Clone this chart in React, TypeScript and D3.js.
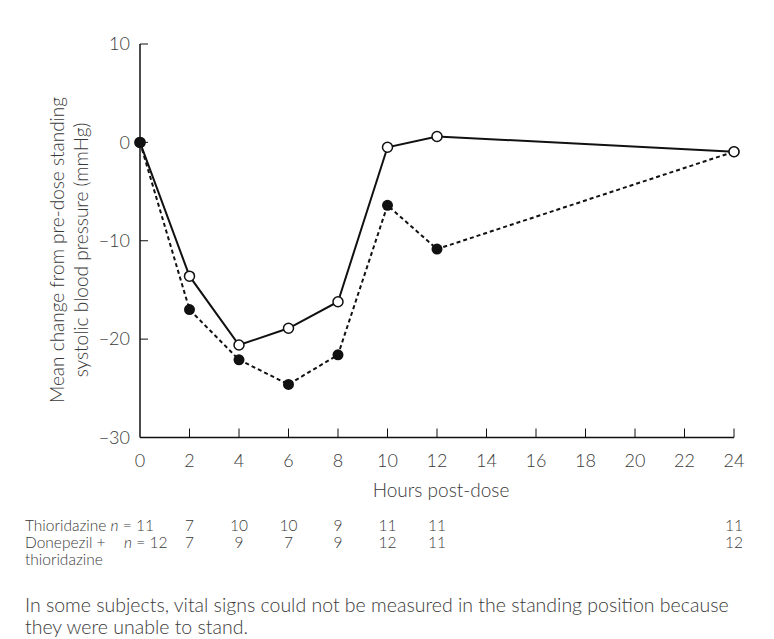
import React from "react";
import * as d3 from "d3";

const hours = [0, 2, 4, 6, 8, 10, 12, 24];
const thioridazine = [0, -13.6, -20.6, -18.9, -16.2, -0.5, 0.6, -0.95];
const donepezilThioridazine = [0, -17.0, -22.1, -24.6, -21.6, -6.4, -10.85, -0.95];
const xTicks = [0, 2, 4, 6, 8, 10, 12, 14, 16, 18, 20, 22, 24];
const yTicks = [10, 0, -10, -20, -30];
const nThioridazine = ["11", "7", "10", "10", "9", "11", "11", "11"];
const nCombined = ["12", "7", "9", "7", "9", "12", "11", "12"];

const FONT = "Lato, 'Open Sans', sans-serif";
const TXT = "#3a3a3a";

export default function App() {
  const x = d3.scaleLinear().domain([0, 24]).range([140, 734]);
  const y = d3.scaleLinear().domain([-30, 10]).range([437.5, 44]);
  const line = d3
    .line<number>()
    .x((_, i) => x(hours[i]))
    .y((d) => y(d));

  const row1 = 531;
  const row2 = 548;
  const row3 = 565;
  const fs = 15.5;

  return (
    <svg
      width={774}
      height={639}
      style={{ position: "absolute", left: 0, top: 0, background: "#fff" }}
      fontFamily={FONT}
    >
      {/* axes */}
      <line x1={x(0)} x2={x(0)} y1={y(10)} y2={y(-30)} stroke="#111" strokeWidth={1.5} />
      <line x1={x(0)} x2={x(24)} y1={y(-30)} y2={y(-30)} stroke="#111" strokeWidth={1.5} />
      {yTicks.map((t) => (
        <g key={"y" + t}>
          <line x1={x(0)} x2={x(0) + 8} y1={y(t)} y2={y(t)} stroke="#111" strokeWidth={1} />
          <text
            x={130}
            y={y(t)}
            dy="0.35em"
            textAnchor="end"
            fontSize={18}
            fontWeight={300}
            fill={TXT}
          >
            {t < 0 ? "\u2212" + Math.abs(t) : String(t)}
          </text>
        </g>
      ))}
      {xTicks.map((t) => (
        <g key={"x" + t}>
          {t > 0 && (
            <line x1={x(t)} x2={x(t)} y1={y(-30)} y2={y(-30) - 9} stroke="#111" strokeWidth={1} />
          )}
          <text x={x(t)} y={467} textAnchor="middle" fontSize={18} fontWeight={300} fill={TXT}>
            {t}
          </text>
        </g>
      ))}
      <text x={441} y={497} textAnchor="middle" fontSize={19} fontWeight={300} fill={TXT}>
        Hours post-dose
      </text>
      <g transform="translate(64,250) rotate(-90)">
        <text x={0} y={0} textAnchor="middle" fontSize={19} fontWeight={300} fill={TXT}>
          Mean change from pre-dose standing
        </text>
        <text x={0} y={24} textAnchor="middle" fontSize={19} fontWeight={300} fill={TXT}>
          systolic blood pressure (mmHg)
        </text>
      </g>

      {/* lines */}
      <path d={line(thioridazine) || ""} fill="none" stroke="#111" strokeWidth={2} />
      <path
        d={line(donepezilThioridazine) || ""}
        fill="none"
        stroke="#111"
        strokeWidth={2}
        strokeDasharray="4 3"
      />
      {thioridazine.map((v, i) =>
        hours[i] === 0 ? (
          <circle key={"o0" + i} cx={x(hours[i])} cy={y(v)} r={5} fill="#fff" stroke="#111" strokeWidth={1.5} />
        ) : null
      )}
      {donepezilThioridazine.map((v, i) => (
        <circle key={"f" + i} cx={x(hours[i])} cy={y(v)} r={5.5} fill="#111" />
      ))}
      {thioridazine.map((v, i) =>
        hours[i] !== 0 ? (
          <circle key={"o" + i} cx={x(hours[i])} cy={y(v)} r={5} fill="#fff" stroke="#111" strokeWidth={1.5} />
        ) : null
      )}

      {/* n table */}
      <text x={25} y={row1} fontSize={fs} fontWeight={300} fill={TXT}>
        Thioridazine <tspan fontStyle="italic">n</tspan> = {nThioridazine[0]}
      </text>
      {nThioridazine.slice(1).map((n, i) => (
        <text key={"n1" + i} x={x(hours[i + 1])} y={row1} textAnchor="middle" fontSize={fs} fontWeight={300} fill={TXT}>
          {n}
        </text>
      ))}
      <text x={25} y={row2} fontSize={fs} fontWeight={300} fill={TXT}>
        Donepezil +
      </text>
      <text x={124} y={row2} fontSize={fs} fontWeight={300} fill={TXT}>
        <tspan fontStyle="italic">n</tspan> = {nCombined[0]}
      </text>
      {nCombined.slice(1).map((n, i) => (
        <text key={"n2" + i} x={x(hours[i + 1])} y={row2} textAnchor="middle" fontSize={fs} fontWeight={300} fill={TXT}>
          {n}
        </text>
      ))}
      <text x={25} y={row3} fontSize={fs} fontWeight={300} fill={TXT}>
        thioridazine
      </text>

      <text x={25} y={612} fontSize={19.5} fontWeight={300} fill={TXT}>
        In some subjects, vital signs could not be measured in the standing position because
      </text>
      <text x={25} y={634} fontSize={19.5} fontWeight={300} fill={TXT}>
        they were unable to stand.
      </text>
    </svg>
  );
}
